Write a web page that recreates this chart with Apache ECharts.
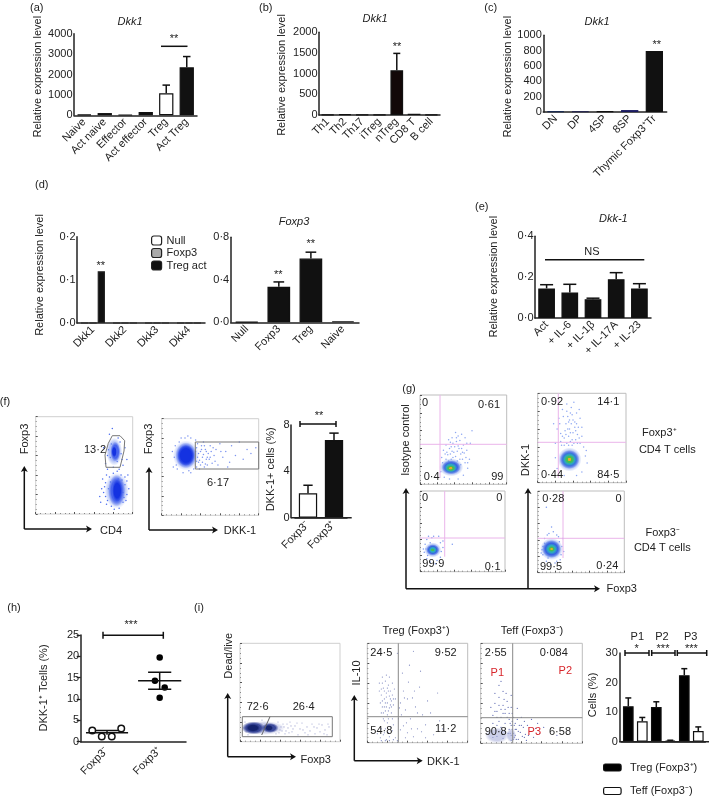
<!DOCTYPE html>
<html><head><meta charset="utf-8">
<style>html,body{margin:0;padding:0;background:#fff}#c{width:709px;height:797px}</style>
<script src="https://cdn.jsdelivr.net/npm/echarts@6/dist/echarts.min.js"></script>
</head><body><div id="c"></div>
<script>
// ---------- data ----------
const aCats = ['Naive','Act naive','Effector','Act effector','Treg','Act Treg'];
const aVals = [40,110,30,160,1080,2350];
const aErrs = [null,null,null,null,1480,2880];
const bCats = ['Th1','Th2','Th17','iTreg','nTreg','CD8 T','B cell'];
const bVals = [10,20,10,10,1080,30,10];
const bErrs = [null,null,null,null,1490,null,null];
const cCats = ['DN','DP','4SP','8SP','Thymic Foxp3⁺Tr'];
const cVals = [10,8,8,25,795];
const dCats = ['Dkk1','Dkk2','Dkk3','Dkk4'];
const dNull = [0,0,0,0];
const dFoxp3 = [0,0,0,0];
const dTreg = [0.12,0,0,0];
const d2Cats = ['Null','Foxp3','Treg','Naive'];
const d2Vals = [0.005,0.335,0.6,0.01];
const d2Errs = [null,0.38,0.66,null];
const eCats = ['Act','+ IL-6','+ IL-1β','+ IL-17A','+ IL-23'];
const eVals = [0.145,0.125,0.092,0.19,0.145];
const eErrs = [0.163,0.165,0.097,0.222,0.168];
const fCats = ['Foxp3⁻','Foxp3⁺'];
const fVals = [2.1,6.7];
const fErrs = [2.8,7.3];
const hCats = ['Foxp3⁻','Foxp3⁺'];
const hNeg = [[0.22,2.6],[0.40,1.2],[0.59,1.2],[0.77,3.1]];
const hPos = [[1.5,19.7],[1.41,14.3],[1.595,12.7],[1.5,10.3]];
const hNegMean = [[0.1,2.1],[0.9,2.1],null,[0.27,2.6],[0.73,2.6],null,[0.5,2.6],[0.5,1.6]];
const hPosMean = [[1.09,14.3],[1.91,14.3],null,[1.28,16.3],[1.72,16.3],null,[1.28,12.3],[1.72,12.3],null,[1.5,16.3],[1.5,12.3]];
const iCats = ['P1 Treg','P1 Teff','P2 Treg','P2 Teff','P3 Treg','P3 Teff'];
const iTreg = [12,null,11.7,null,22.5,null];
const iTeff = [null,6.9,null,0.4,null,3.6];
const iErrs = [14.8,8.2,13.5,0.5,24.7,5];

// flow plots: dots and density blobs, percent of the plot frame [x,y] / [x,y,w,h,level]
const f1Dots = [[74,60],[78,72],[85,78],[88,62],[72,52],[90,50],[76,82],[84,54],[92,68],[70,68],[80,48],[86,46],[74,46],[94,56],[79,88],[70,22],[72,32],[74,14],[76,38],[78,8],[92,30],[94,20],[90,12],[96,26],[68,26],[88,40],[80,42],[86,6],[72,18],[92,38],[66,18],[84,44],[75,26],[90,22],[94,34],[71,28],[77,33],[91,17],[89,35],[73,10],[83,70],[77,58],[87,74],[75,66],[89,56],[73,40],[69,36],[93,14],[81,5],[95,40],[67,12],[85,36]];
const f1Blobs = [[81,64,16,28,0],[82,64,10,20,1],[81,64,5,11,2],[83.5,24,24,36,0],[83.5,24,17,32,1],[84,24,10,22,2]];
const f2Dots = [[38,55],[40,66],[41,72],[42,60],[44,50],[45,68],[46,58],[48,64],[50,72],[52,54],[54,62],[56,68],[58,52],[60,74],[63,60],[66,66],[70,55],[72,72],[76,62],[80,76],[84,58],[88,68],[92,64],[39,48],[43,76],[47,52],[49,58],[51,66],[36,70],[36,50],[24,80],[18,76],[30,80],[13,60],[12,50],[14,72],[30,44],[22,44],[97,70],[68,50],[37,60],[38,64],[39,57],[40,52],[41,68],[42,55],[43,63],[44,72],[45,53],[46,66],[47,60],[37,74],[35,78],[33,48],[28,46],[16,48],[11,66],[15,52],[20,80],[27,82],[35,66],[36,56],[50,60],[53,70],[55,56],[61,66]];
const f2Blobs = [[25,62,26,30,0],[25,62,21,26,1],[25,62,17,21,2]];
const g1Dots = [[27,38],[30,44],[33,50],[36,42],[39,36],[42,48],[45,40],[47,34],[50,44],[52,52],[54,38],[48,56],[44,54],[38,30],[30,28],[26,24],[24,14],[28,8],[34,6],[44,6],[50,10],[55,18],[52,24],[57,28],[41,58],[35,34],[46,28],[53,30],[58,46],[40,42],[31,36],[49,36],[60,60],[37,52],[25,30],[34,40],[37,37],[41,31],[43,37],[44,43],[46,49],[48,40],[51,35],[38,46],[35,47],[32,33],[29,34],[43,26],[49,28],[55,24],[47,22],[36,28],[33,26],[42,52],[54,46]];
const g1Blobs = [[36,19,24,18,0],[36,19,19,14,1],[35.5,18.5,13,10,2],[35.5,18,9,6,3],[35.5,18,4,3,4]];
const g2Dots = [[22,60],[24,72],[26,55],[28,82],[30,50],[32,66],[34,74],[36,60],[38,84],[40,56],[42,68],[44,78],[46,62],[48,72],[50,52],[33,88],[37,46],[43,48],[27,42],[20,44],[52,40],[54,30],[56,22],[50,12],[44,8],[30,8],[22,16],[20,28],[41,90],[35,68],[39,76],[45,54],[31,58],[25,66],[47,82],[29,74],[55,36],[18,66],[33,44],[35,52],[37,56],[39,48],[41,44],[43,58],[45,44],[47,50],[34,60],[38,66],[42,62],[36,70],[30,42],[28,52],[32,54],[48,44],[40,70],[44,66],[33,80],[37,78],[26,46],[50,62],[35,42],[39,42]];
const g2Blobs = [[36,26,24,24,0],[36,26,20,19,1],[36,26,15,14,2],[36,26,10,9,3],[36,26,4,4,4]];
const g3Dots = [[5,24],[6,34],[8,16],[8,40],[12,12],[16,44],[20,14],[24,18],[27,30],[27,38],[22,44],[10,44],[4,28],[18,10],[38,34],[12,36],[25,25],[7,28],[24,36],[14,42],[9,20]];
const g3Blobs = [[15,27,17,15,0],[15,27,13,11,1],[15,27,8,7,2],[15,27,4,3,3]];
const g4Dots = [[6,22],[6,32],[8,42],[10,14],[13,48],[18,50],[22,46],[25,38],[28,32],[27,22],[22,14],[15,10],[5,28],[29,42],[12,18],[26,16],[16,56],[10,80],[30,26],[8,36],[24,44],[11,46],[4,24],[20,12]];
const g4Blobs = [[16,29,23,22,0],[16,29,19,18,1],[16,29,12,11,2],[16,29,7,6,3],[16,29,3,3,4]];
const i1Dots = [[40,12],[43,18],[45,8],[48,14],[50,20],[52,10],[55,16],[58,7],[60,13],[62,19],[65,9],[67,15],[70,11],[72,18],[75,8],[77,14],[80,10],[82,17],[85,12],[87,7],[89,15],[6,10],[5,20],[8,7],[22,22],[38,20],[36,8],[41,15],[46,11],[53,13],[57,19],[74,15],[39,9],[42,11],[44,15],[47,18],[49,9],[51,16],[63,12],[68,7],[79,18],[84,8],[88,18],[4,14]];
const i1Blobs = [[24,14,42,14,0],[13.5,14,24,13,1],[30,14,17,10,1],[13,14,14,8,2],[29,14,8,6,2]];
const i2Dots = [[12,60],[14,48],[15,36],[16,55],[17,44],[18,32],[18,62],[19,50],[20,40],[20,28],[21,58],[22,35],[22,47],[23,52],[24,42],[24,30],[25,60],[26,38],[14,30],[16,24],[19,68],[22,66],[25,48],[27,54],[13,40],[17,22],[21,24],[25,24],[12,52],[28,44],[20,55],[23,38],[18,40],[16,30],[15,66],[13,5],[16,8],[19,3],[22,6],[25,12],[28,5],[18,14],[14,14],[10,9],[26,18],[33,40],[36,52],[38,33],[41,61],[43,24],[45,45],[48,36],[50,14],[52,56],[55,28],[58,18],[60,42],[63,30],[66,8],[70,50],[72,22],[36,17],[40,10],[46,6],[35,70],[42,78],[53,72],[30,90],[46,92],[33,13],[38,5],[58,5],[54,11],[75,14],[40,44],[15,42],[17,36],[19,46],[21,32],[23,44],[17,52],[21,52],[19,36],[24,36],[26,44],[15,60],[14,54],[20,20],[23,16],[17,10],[21,10],[14,2],[18,2],[22,2],[26,3],[30,2],[31,24],[32,35],[34,28],[37,45],[39,20],[44,14],[47,52],[50,30]];
const i3Dots = [[10,36],[12,28],[14,40],[16,32],[18,46],[20,26],[22,38],[24,30],[26,42],[28,24],[30,36],[14,50],[18,58],[22,52],[12,20],[16,18],[20,16],[24,20],[28,14],[32,26],[33,18],[34,8],[35,14],[36,24],[37,4],[38,18],[39,11],[40,26],[41,7],[42,16],[43,22],[44,9],[45,3],[46,18],[48,12],[50,24],[52,6],[54,15],[56,20],[58,10],[30,8],[31,14],[32,4],[29,20],[27,10],[25,50],[20,62],[30,48],[62,16],[75,8],[36,35],[24,12],[16,7],[22,5],[12,6],[30,18],[31,22],[32,10],[33,6],[34,20],[35,4],[29,10],[30,3],[28,30],[26,26],[24,34],[22,30],[20,34],[18,38],[16,26],[14,32],[23,44],[27,36],[31,30],[18,22],[34,14],[37,12],[40,18],[43,6],[47,8]];
const i3Blobs = [[16,8,24,16,0],[30,8,10,14,0]];

// ---------- helpers ----------
const FONT = '"Liberation Sans", Arial, sans-serif';
const INK = '#222';
const grid = [], xAxis = [], yAxis = [], series = [], gfx = [];
const dec = v => v.toFixed(1).replace('.', '·');

function T(text, x, y, o = {}) {
  gfx.push({ type:'text', x, y, rotation:o.rot||0, z:50, style:{ text, fontFamily:FONT, fontSize:o.size||11,
    fontStyle:o.italic?'italic':'normal', fill:o.color||INK, align:'center', verticalAlign:'middle' } });
}
function L(x1,y1,x2,y2,w=1.5,c='#111') {
  gfx.push({ type:'line', z:50, shape:{x1,y1,x2,y2}, style:{stroke:c,lineWidth:w} });
}
function bracket(x1,x2,y,cap=3.5) { L(x1,y,x2,y); L(x1,y-cap,x1,y+cap); L(x2,y-cap,x2,y+cap); }
function arrowTip(x,y,dir) {
  const p = dir==='up' ? [[x,y],[x-3.5,y+6],[x,y+4.5],[x+3.5,y+6]] : [[x,y],[x-6,y-3.5],[x-4.5,y],[x-6,y+3.5]];
  gfx.push({ type:'polygon', z:50, shape:{points:p}, style:{fill:'#111'} });
}
function axes(x0,y0,x1) { // origin x0,y0: up to y1, right to x1
  L(x0,y0,x0,x1[0]+3); arrowTip(x0,x1[0],'up');
  L(x0,y0,x1[1]-3,y0); arrowTip(x1[1],y0,'right');
}
const yLab = (text,x,y) => T(text,x,y,{rot:Math.PI/2});

function barPanel(p) {
  const [l,t,r,b] = p.rect, pad = p.pad||[0,0], g = grid.length, xi = xAxis.length, yi = yAxis.length;
  grid.push({ left:l+pad[0], top:t, width:r-l-pad[0]-pad[1], height:b-t, containLabel:false });
  xAxis.push({ type:'category', gridIndex:g, data:p.cats,
    axisLine:{lineStyle:{color:INK,width:1.5}}, axisTick:{alignWithLabel:true,length:3,lineStyle:{color:INK,width:1.3},interval:0},
    axisLabel:{show:p.showLabels!==false,interval:0,rotate:45,fontSize:11,fontFamily:FONT,color:INK,margin:5} });
  yAxis.push({ type:'value', gridIndex:g, min:p.min, max:p.max, interval:p.interval, offset:pad[0],
    splitLine:{show:false}, axisLine:{show:true,lineStyle:{color:INK,width:1.5}}, axisTick:{length:4,lineStyle:{color:INK,width:1.3}},
    axisLabel:{fontSize:11,fontFamily:FONT,color:INK,margin:1.5,formatter:p.fmt||(v=>String(v))} });
  if (pad[0]||pad[1]) L(l,b,r,b,1.5,INK);
  p.bars.forEach(s => series.push({ type:'bar', name:s.name, xAxisIndex:xi, yAxisIndex:yi, data:s.data,
    barWidth:p.barWidth, barGap:s.gap||p.gap||'-100%',
    itemStyle:{color:s.color||'#111',borderColor:s.border||'#111',borderWidth:s.bw===undefined?1.2:s.bw}, silent:true }));
  if (p.errs) {
    const w = p.cap;
    const base = p.base;
    series.push({ type:'custom', xAxisIndex:xi, yAxisIndex:yi, silent:true, z:1,
      data:p.errs.map((e,i)=>e==null?null:[i,e,base[i]]).filter(Boolean), encode:{x:0,y:1},
      renderItem:(ps,api)=>{
        const a=api.coord([api.value(0),api.value(2)]), q=api.coord([api.value(0),api.value(1)]);
        const st={stroke:'#111',lineWidth:1.5};
        return {type:'group',children:[
          {type:'line',shape:{x1:a[0],y1:a[1],x2:q[0],y2:q[1]},style:st},
          {type:'line',shape:{x1:q[0]-w/2,y1:q[1],x2:q[0]+w/2,y2:q[1]},style:st}]};
      } });
  }
}
const paint = (vals,colors) => vals.map((v,i)=>({value:v,itemStyle:colors[i]||{}}));

const grad = c => ({type:'radial',x:.5,y:.5,r:.5,colorStops:[{offset:0,color:c},{offset:.65,color:c},{offset:1,color:c.replace(/,[^,]*\)$/,',0)')}]});
function flow(p) {
  const [l,t,r,b] = p.rect, g = grid.length, xi = xAxis.length, yi = yAxis.length;
  grid.push({ left:l, top:t, width:r-l, height:b-t, show:true, borderColor:p.frame||'#bdbdbd', borderWidth:1, backgroundColor:'#fff' });
  const ax = { type:'value', gridIndex:g, min:0, max:100, interval:20, splitLine:{show:false}, axisLine:{show:false}, axisLabel:{show:false},
    axisTick:{inside:true,length:2,lineStyle:{color:'#555',width:1}}, minorTick:{show:true,splitNumber:4,length:1,lineStyle:{color:'#888'}}, minorSplitLine:{show:false} };
  xAxis.push({...ax}); yAxis.push({...ax});
  if (p.dots) series.push({ type:'scatter', xAxisIndex:xi, yAxisIndex:yi, data:p.dots, symbolSize:p.dotSize||1.5, silent:true,
    itemStyle:{color:p.dotColor||'#4a6cf0',opacity:1}, animation:false });
  if (p.blobs) series.push({ type:'scatter', xAxisIndex:xi, yAxisIndex:yi, silent:true, animation:false,
    data:p.blobs.map(v=>({value:v.slice(0,2),symbolSize:[v[2],v[3]],itemStyle:{color:grad(p.palette[v[4]]),opacity:1}})) });
}
const BLUE = ['rgba(120,148,240,0.6)','rgba(60,90,235,0.9)','rgba(20,50,225,1)'];
const HEAT = ['rgba(120,150,235,0.7)','rgba(50,95,225,0.95)','rgba(45,170,190,1)','rgba(70,190,80,1)','rgba(235,170,40,1)'];
const NAVY = ['rgba(170,176,220,0.6)','rgba(50,65,150,0.95)','rgba(20,35,110,1)'];

// ---------- (a) ----------
T('(a)',36.7,7.5); T('Dkk1',130,22,{italic:true}); yLab('Relative expression level',38.3,76.7);
barPanel({ rect:[74,33.7,197,115.3], cats:aCats, min:0,max:4000,interval:1000, barWidth:14.3, cap:7.5,
  bars:[{data:paint(aVals,{4:{color:'#fff'}})}], errs:aErrs, base:aVals });
L(161,46.3,187.5,46.3); T('**',174,39);
// ---------- (b) ----------
T('(b)',265.7,7.5); T('Dkk1',375,19.3,{italic:true}); yLab('Relative expression level',281.7,75);
barPanel({ rect:[319,32.3,440,115], cats:bCats, min:0,max:2000,interval:500, barWidth:12.7, cap:7,
  bars:[{data:bVals,color:'#120808'}], errs:bErrs, base:bVals });
T('**',397,46.5);
// ---------- (c) ----------
T('(c)',490.7,7.5); T('Dkk1',597,22,{italic:true}); yLab('Relative expression level',508,76.7);
barPanel({ rect:[543.3,35.3,666.7,112], cats:cCats, min:0,max:1000,interval:200, barWidth:17.3,
  bars:[{data:paint(cVals,{0:{color:'#1a2a50',borderColor:'#1a2a50'},1:{color:'#2a2a50',borderColor:'#2a2a50'},3:{color:'#1a1a7a',borderColor:'#1a1a60'}})}] });
T('**',656.7,45);
// ---------- (d) ----------
T('(d)',41.7,185); yLab('Relative expression level',40,275);
barPanel({ rect:[77,236.7,205,323], cats:dCats, min:0,max:0.2,interval:0.1, fmt:dec, barWidth:7.3, gap:'14%',
  bars:[{name:'Null',data:dNull,color:'#fff',border:'#222',bw:1.2},{name:'Foxp3',data:dFoxp3,color:'#aaa',border:'#222',bw:1.2},{name:'Treg act',data:dTreg,color:'#111',border:'#222',bw:1.2}] });
T('**',100.7,265.5);
T('Foxp3',294,222,{italic:true});
barPanel({ rect:[230.7,237.3,359,322.3], cats:d2Cats, min:0,max:0.8,interval:0.4, fmt:dec, barWidth:22.7, cap:10.7,
  bars:[{data:d2Vals}], errs:d2Errs, base:d2Vals });
T('**',278.3,274.5); T('**',310.7,244);
// ---------- (e) ----------
T('(e)',481.7,206.7); T('Dkk-1',613.3,219,{italic:true}); yLab('Relative expression level',494.3,276.7);
barPanel({ rect:[535,236.3,651,318], cats:eCats, min:0,max:0.4,interval:0.2, fmt:dec, barWidth:16.7, cap:13,
  bars:[{data:eVals}], errs:eErrs, base:eVals });
L(545,259.7,644.3,259.7); T('NS',592,252);
// ---------- (f) ----------
T('(f)',5,401.7);
flow({ rect:[35.7,416.7,132.7,514], dots:f1Dots, blobs:f1Blobs, palette:BLUE, frame:'#cfcfcf' });
gfx.push({type:'polygon',z:50,shape:{points:[[112.3,435.7],[120,435.7],[124.7,440.7],[124,451],[120,467.3],[106,467.3],[105,455],[108.3,443.3]]},style:{fill:'none',stroke:'#777',lineWidth:1}});
T('13·2',95,449.5); yLab('Foxp3',25,439); axes(24.3,529,[466,92]); T('CD4',111,531);
flow({ rect:[161.7,418.7,258.7,515.3], dots:f2Dots, blobs:f2Blobs, palette:BLUE, frame:'#cfcfcf', dotColor:'#7c94f0' });
gfx.push({type:'rect',z:50,shape:{x:195.3,y:442,width:63.4,height:27},style:{fill:'none',stroke:'#777',lineWidth:1}});
T('6·17',218,482.5); yLab('Foxp3',149,439); axes(149,530,[467,218]); T('DKK-1',240,531);
barPanel({ rect:[291,425,351.7,517.7], pad:[4,4.7], cats:fCats, min:0,max:8,interval:4, barWidth:18.3, cap:9.3,
  bars:[{data:paint(fVals,{0:{color:'#fff'}})}], errs:fErrs, base:fVals });
bracket(300,336,424,3); T('**',319,416); yLab('DKK-1+ cells (%)',271.3,469.3);
// ---------- (g) ----------
T('(g)',409,389);
const PINK='#eab4ea';
flow({ rect:[420,395,506.7,484.3], dots:g1Dots, blobs:g1Blobs, palette:HEAT, dotColor:'#8fa8f2' });
L(440,395,440,478,1,PINK); L(420,444.3,506.7,444.3,1,PINK);
flow({ rect:[537.7,393.3,626,482.7], dots:g2Dots, blobs:g2Blobs, palette:HEAT, dotColor:'#8fa8f2' });
L(558.3,393.3,558.3,478,1,PINK); L(537.7,442.3,626,442.3,1,PINK);
flow({ rect:[420,491,505,571.7], dots:g3Dots, blobs:g3Blobs, palette:HEAT, dotColor:'#7f9cf0' });
L(444.7,491,444.7,556.7,1,PINK); L(420,538,505,538,1,PINK);
flow({ rect:[537.7,491,624.3,572.7], dots:g4Dots, blobs:g4Blobs, palette:HEAT, dotColor:'#7f9cf0' });
L(563,491,563,558,1,PINK); L(537.7,538.3,624.3,538.3,1,PINK);
[['0',135,38],['0·61',327,45],['0·4',155,262],['99',352,262],['0·92',516,37],['14·1',685,37],['0·44',516,255],['84·5',685,255],
 ['0',135,325],['0',358,325],['99·9',160,523],['0·1',338,530],['0·28',520,328],['0',716,328],['99·5',513,530],['0·24',682,528]]
 .forEach(a=>T(a[0],380+a[1]/3,390+a[2]/3));
T('Foxp3⁺',659.3,433.3); T('CD4 T cells',667.3,450); T('Foxp3⁻',662.7,533.3); T('CD4 T cells',662.3,548);
yLab('Isotype control',406,440); yLab('DKK-1',526,460);
L(406,588.7,596,588.7); arrowTip(600,588.7,'right');
L(406,588.7,406,491); arrowTip(406,488,'up'); L(528,588.7,528,491); arrowTip(528,488,'up');
T('Foxp3',621.7,589);
// ---------- (h) ----------
T('(h)',14,608);
{
  const g = grid.length, xc = xAxis.length, xi = xc+1, yi = yAxis.length;
  grid.push({ left:80.7, top:635, width:105.3, height:106.7 });
  xAxis.push({ type:'category', gridIndex:g, data:hCats, axisLine:{lineStyle:{color:INK,width:1.5}}, axisTick:{alignWithLabel:true,length:3,lineStyle:{color:INK,width:1.3}},
    axisLabel:{interval:0,rotate:45,fontSize:11,fontFamily:FONT,color:INK,margin:7} });
  xAxis.push({ type:'value', gridIndex:g, min:0, max:2, show:false });
  yAxis.push({ type:'value', gridIndex:g, min:0, max:25, interval:5, splitLine:{show:false}, axisLine:{show:true,lineStyle:{color:INK,width:1.5}},
    axisTick:{length:4,lineStyle:{color:INK,width:1.3}}, axisLabel:{fontSize:11,fontFamily:FONT,color:INK,margin:1.5} });
  const line = d => ({ type:'line', xAxisIndex:xi, yAxisIndex:yi, data:d.map(v=>v||[null,null]), symbol:'none', silent:true, connectNulls:false, lineStyle:{color:'#111',width:1.5} });
  series.push(line(hNegMean), line(hPosMean));
  series.push({ type:'scatter', xAxisIndex:xi, yAxisIndex:yi, data:hNeg, symbolSize:6.5, silent:true, itemStyle:{color:'#fff',borderColor:'#111',borderWidth:1.5,opacity:1} });
  series.push({ type:'scatter', xAxisIndex:xi, yAxisIndex:yi, data:hPos, symbolSize:6.5, silent:true, itemStyle:{color:'#000',opacity:1} });
}
bracket(103,163.3,635.3,3.5); T('***',131,625); yLab('DKK-1⁺ Tcells (%)',44,688);
// ---------- (i) ----------
T('(i)',199,608);
flow({ rect:[240,643.3,340,741.7], dots:i1Dots, blobs:i1Blobs, palette:NAVY, dotColor:'#9ca2cf', dotSize:1.2, frame:'#cfcfcf' });
gfx.push({type:'rect',z:50,shape:{x:242.3,y:716.7,width:90,height:20},style:{fill:'none',stroke:'#777',lineWidth:1}});
L(270,716.7,261.7,735,1,'#666'); T('72·6',257.7,706.7); T('26·4',303.7,706.7);
yLab('Dead/live',228.7,655.7); axes(227.7,756.7,[693,296]); T('Foxp3',315.7,760);
flow({ rect:[367.3,643.3,467.7,742.7], dots:i2Dots, dotColor:'#7f88c0', dotSize:1.2 });
L(398.3,643.3,398.3,742.7,1,'#888'); L(367.3,716.7,467.7,716.7,1,'#888');
T('24·5',381.3,653.3); T('9·52',445.7,652.7); T('54·8',381.3,730.7); T('11·2',445.7,729.3);
T('Treg (Foxp3⁺)',416,630.7); yLab('IL-10',357.3,673); axes(354.3,760.7,[695,422.7]); T('DKK-1',443.3,762);
flow({ rect:[480.7,643.3,582.3,743.3], dots:i3Dots, blobs:i3Blobs, palette:NAVY, dotColor:'#5a66b0', dotSize:1.3 });
L(512.7,643.3,512.7,743.3,1,'#888'); L(480.7,717.7,582.3,717.7,1,'#888');
T('2·55',495.7,653.3); T('0·084',553.7,652.7); T('90·8',495.7,732); T('6·58',560,732.3);
T('P1',497.3,672.7,{color:'#d8262c'}); T('P2',565.3,671.3,{color:'#d8262c'}); T('P3',534.3,731.7,{color:'#d8262c'});
T('Teff (Foxp3⁻)',532,630.7);
barPanel({ rect:[619.3,653,709,741.7], pad:[2,3.7], cats:iCats, showLabels:false, min:0,max:30,interval:10, barWidth:10.7, cap:6,
  bars:[{name:'Treg (Foxp3⁺)',data:iTreg,color:'#000'},{name:'Teff (Foxp3⁻)',data:iTeff,color:'#fff'}], errs:iErrs,
  base:iTreg.map((v,k)=>v==null?iTeff[k]:v) });
bracket(625,649,653,3); bracket(651.7,675,653,3); bracket(677.3,706.7,653,3);
T('P1',637.3,637.3); T('P2',662,637.3); T('P3',690.7,637.3);
T('*',636.7,648.5); T('***',663,648.5); T('***',691.3,648.5);
yLab('Cells (%)',593.3,695);

const chart = echarts.init(document.getElementById('c'),null,{renderer:'canvas',width:709,height:797});
chart.setOption({
  animation:false, backgroundColor:'#fff', textStyle:{fontFamily:FONT},
  legend:[
    {data:['Null','Foxp3','Treg act'],left:151,top:235,orient:'vertical',itemWidth:10,itemHeight:9,itemGap:1.5,padding:0,selectedMode:false,
      textStyle:{fontSize:11,fontFamily:FONT,color:INK,lineHeight:9},itemStyle:{borderWidth:1.2,borderColor:'#222'}},
    {data:['Treg (Foxp3⁺)','Teff (Foxp3⁻)'],left:603,top:762,orient:'vertical',itemWidth:17.5,itemHeight:7,itemGap:12.5,padding:0,selectedMode:false,
      textStyle:{fontSize:11,fontFamily:FONT,color:INK,padding:[0,0,0,4]},itemStyle:{borderWidth:1.2,borderColor:'#111'}}
  ],
  grid, xAxis, yAxis, series, graphic:{elements:gfx}
});
</script></body></html>
